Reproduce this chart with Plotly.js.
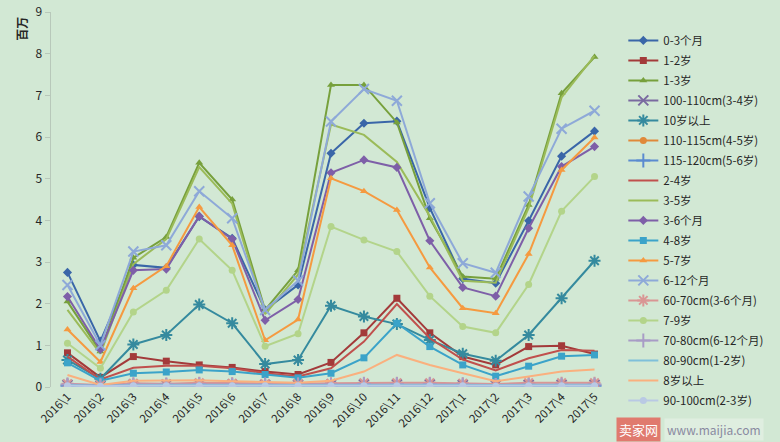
<!DOCTYPE html>
<html>
<head>
<meta charset="utf-8">
<script src="https://cdn.plot.ly/plotly-3.0.1.min.js"></script>
<style>html,body{margin:0;padding:0;background:#d2e8d4;}#chart{width:780px;height:442px;}</style>
</head>
<body>
<div id="chart"></div>
<script>
const months = ["2016\\1","2016\\2","2016\\3","2016\\4","2016\\5","2016\\6","2016\\7","2016\\8","2016\\9","2016\\10","2016\\11","2016\\12","2017\\1","2017\\2","2017\\3","2017\\4","2017\\5"];

const s_0_3m   = [2.75,1.10,2.93,2.86,4.09,3.57,1.85,2.45,5.61,6.33,6.38,4.30,2.60,2.49,3.99,5.54,6.14];
const s_1_2y   = [0.82,0.23,0.73,0.62,0.53,0.47,0.37,0.30,0.59,1.30,2.13,1.30,0.73,0.53,0.97,0.99,0.79];
const s_1_3y   = [2.05,0.85,3.10,3.60,5.38,4.50,1.85,2.80,7.25,7.25,6.35,4.05,2.65,2.60,4.37,7.05,7.92];
const s_100cm  = [0.05,0.03,0.05,0.05,0.06,0.05,0.05,0.05,0.05,0.06,0.06,0.06,0.05,0.04,0.05,0.05,0.05];
const s_10y    = [0.65,0.20,1.02,1.25,1.98,1.53,0.55,0.65,1.95,1.69,1.51,1.13,0.80,0.63,1.25,2.13,3.03];
const s_110cm  = [0.04,0.02,0.04,0.04,0.05,0.04,0.04,0.04,0.04,0.05,0.05,0.05,0.04,0.03,0.04,0.04,0.04];
const s_115cm  = [0.03,0.02,0.03,0.03,0.04,0.03,0.03,0.03,0.03,0.04,0.04,0.04,0.03,0.02,0.03,0.03,0.03];
const s_2_4y   = [0.73,0.18,0.46,0.51,0.51,0.45,0.33,0.25,0.45,1.09,1.99,1.17,0.66,0.40,0.69,0.89,0.87];
const s_3_5y   = [1.85,0.80,2.95,3.55,5.28,4.40,1.75,2.70,6.30,6.05,5.40,4.10,2.55,2.50,4.30,6.95,7.95];
const s_3_6m   = [2.17,0.90,2.80,2.83,4.10,3.55,1.60,2.10,5.14,5.45,5.27,3.51,2.39,2.18,3.81,5.29,5.77];
const s_4_8y   = [0.58,0.15,0.33,0.36,0.41,0.37,0.30,0.22,0.33,0.70,1.53,0.97,0.53,0.26,0.50,0.74,0.77];
const s_5_7y   = [1.38,0.60,2.37,2.90,4.32,3.40,1.12,1.62,5.01,4.70,4.25,2.87,1.89,1.77,3.19,5.21,5.99];
const s_6_12m  = [2.45,1.00,3.25,3.40,4.70,4.05,1.85,2.55,6.37,7.15,6.87,4.41,2.97,2.74,4.57,6.20,6.63];
const s_60cm   = [0.08,0.05,0.09,0.08,0.10,0.09,0.08,0.08,0.09,0.10,0.10,0.10,0.09,0.07,0.10,0.10,0.10];
const s_7_9y   = [1.05,0.45,1.80,2.32,3.55,2.80,0.98,1.28,3.85,3.53,3.25,2.18,1.45,1.30,2.46,4.22,5.05];
const s_70cm   = [0.06,0.04,0.06,0.06,0.07,0.06,0.06,0.06,0.06,0.07,0.07,0.07,0.06,0.05,0.06,0.06,0.06];
const s_80cm   = [0.04,0.03,0.04,0.04,0.04,0.04,0.04,0.04,0.04,0.04,0.04,0.04,0.04,0.03,0.04,0.04,0.04];
const s_8y     = [0.29,0.05,0.15,0.15,0.16,0.14,0.12,0.10,0.15,0.37,0.77,0.53,0.33,0.14,0.25,0.37,0.42];
const s_90cm   = [0.03,0.02,0.03,0.03,0.03,0.03,0.03,0.03,0.03,0.03,0.03,0.03,0.03,0.02,0.03,0.03,0.03];

const names = ["0-3个月","1-2岁","1-3岁","100-110cm(3-4岁)","10岁以上","110-115cm(4-5岁)","115-120cm(5-6岁)","2-4岁","3-5岁","3-6个月","4-8岁","5-7岁","6-12个月","60-70cm(3-6个月)","7-9岁","70-80cm(6-12个月)","80-90cm(1-2岁)","8岁以上","90-100cm(2-3岁)"];
const series = [s_0_3m,s_1_2y,s_1_3y,s_100cm,s_10y,s_110cm,s_115cm,s_2_4y,s_3_5y,s_3_6m,s_4_8y,s_5_7y,s_6_12m,s_60cm,s_7_9y,s_70cm,s_80cm,s_8y,s_90cm];
const colors = ["#3a66a8","#a33a3a","#77a03c","#7a6aa0","#358a9e","#e0893a","#5b8bd0","#c0504d","#9bbb59","#7e5fa8","#3ba3c9","#f59a40","#8ea9d8","#d99694","#b3d48a","#a89cc6","#7fc0da","#fab07e","#b9c9e4"];
const symbols = ["diamond","square","triangle-up","x-thin-open","asterisk-open","circle","cross-thin-open",null,null,"diamond","square","triangle-up","x-thin-open","asterisk-open","circle","cross-thin-open",null,null,"circle"];

const traces = series.map((ys,i)=>{
  const t = {
    type:"scatter", x:months, y:ys, name:names[i], legendgroup:"g"+i,
    line:{color:colors[i], width:2},
    mode: symbols[i] ? "lines+markers" : "lines"
  };
  if (symbols[i]) {
    const thin = symbols[i].indexOf("thin")>=0 || symbols[i].indexOf("asterisk")>=0;
    t.marker = {symbol:symbols[i], color:colors[i], size: thin ? 10 : 7,
                line:{color:colors[i], width: thin ? 2 : 0}};
  }
  return t;
});

const font = "Microsoft YaHei, 'Noto Sans CJK SC', 'Open Sans', sans-serif";
const layout = {
  width:780, height:442,
  paper_bgcolor:"#d2e8d4", plot_bgcolor:"#d2e8d4",
  margin:{l:51, r:145, t:12, b:55},
  font:{family:font, size:11, color:"#262626"},
  showlegend:true,
  legend:{x:1.022, xanchor:"left", y:0.963, yanchor:"top", font:{size:11.5, color:"#262626"}, bgcolor:"rgba(0,0,0,0)", tracegroupgap:1, itemwidth:30, maxheight:440},
  xaxis:{type:"category", tickangle:-45, showgrid:false, zeroline:false, showline:false, ticks:"", tickfont:{size:11.5}, range:[-0.5,16.5], fixedrange:true},
  yaxis:{range:[0,9], dtick:1, showgrid:false, zeroline:false, showline:true, linecolor:"#b8c8ba", linewidth:1.5, ticks:"outside", ticklen:5, tickcolor:"#b8c8ba", tickfont:{size:12}, fixedrange:true},
  annotations:[
    {text:"<b>百万</b>", xref:"paper", yref:"paper", x:-0.052, y:0.955, xanchor:"center", yanchor:"middle", textangle:-90, showarrow:false, font:{size:12, color:"#262626"}},
    {text:"卖家网", xref:"paper", yref:"paper", x:1.0082, y:-0.112, xanchor:"left", yanchor:"middle", showarrow:false, bgcolor:"#e07a6e", font:{size:13, color:"#ffffff"}, borderpad:2},
    {text:"www.maijia.com", xref:"paper", yref:"paper", x:1.095, y:-0.112, xanchor:"left", yanchor:"middle", showarrow:false, bgcolor:"#dfeee0", font:{size:12, color:"#8a8aa0"}, borderpad:2}
  ]
};
Plotly.newPlot("chart", traces, layout, {displayModeBar:false, staticPlot:true});
</script>
</body>
</html>
